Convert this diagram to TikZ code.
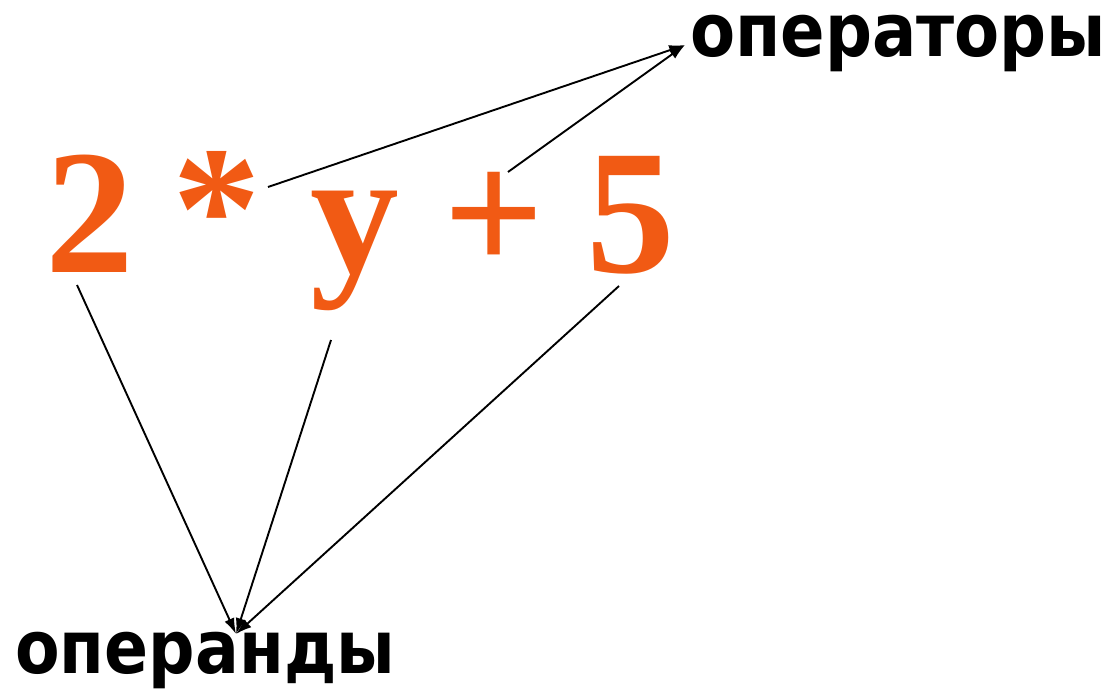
\documentclass[tikz,border=0pt]{standalone}
\usepackage{fontspec}
\setmainfont{Liberation Serif}
\newfontfamily\labelfont{DejaVu Sans}
\usepackage{tikz}
\usetikzlibrary{arrows.meta}
\definecolor{exprorange}{RGB}{241,90,20}

\begin{document}
\begin{tikzpicture}[x=0.02cm, y=-0.02cm,
    sym/.style={anchor=base, text=exprorange, inner sep=0pt, font=\fontsize{101}{101}\selectfont\bfseries},
    word/.style={anchor=base west, inner sep=0pt, font=\fontsize{42}{42}\selectfont\labelfont\bfseries},
    link/.style={line width=0.38mm, color=black, -{Latex[length=9pt,width=6pt]}}]

\useasboundingbox (0,0) rectangle (1116,690);

\node[sym] (two) at (90,272) {2};
\node[sym] (star) at (217,268) {*};
\node[sym] (yvar) at (355,272) {y};
\node[sym] (plus) at (494,272) {+};
\node[sym] (five) at (631,272) {5};

\node[word] (operators) at (690,56) {\scalebox{0.89}[1]{операторы}};
\node[word] (operands) at (15,673) {\scalebox{0.88}[1]{операнды}};

\coordinate (twofoot) at (77,285);
\coordinate (yfoot) at (331,340);
\coordinate (fivefoot) at (619,286);
\coordinate (starside) at (268,187);
\coordinate (plustop) at (508,172);
\coordinate (opsin) at (236,634);
\coordinate (optin) at (685,45);

\foreach \s in {twofoot,yfoot,fivefoot} {
    \draw[link] (\s) -- (opsin);
};

\foreach \s in {starside,plustop} {
    \draw[link] (\s) -- (optin);
};

\end{tikzpicture}
\end{document}
